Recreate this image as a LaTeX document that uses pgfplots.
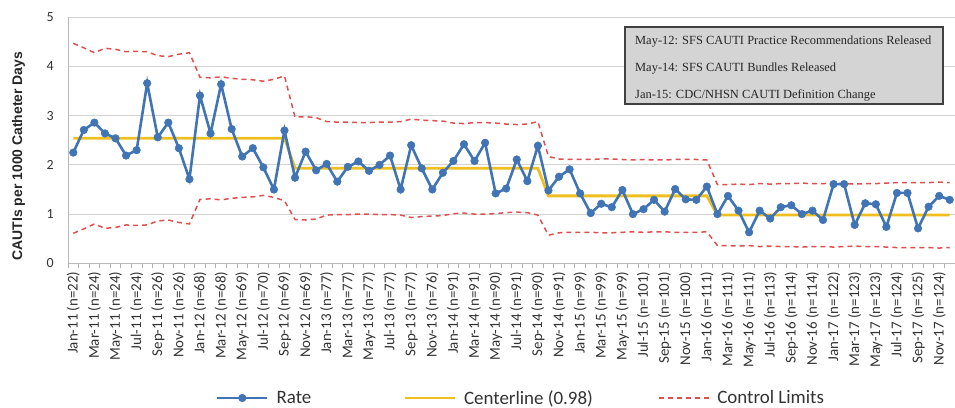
\documentclass[border=0pt]{standalone}
\usepackage{fontspec}
\setmainfont{Carlito}
\newfontfamily\arialf{Liberation Sans}
\newfontfamily\timesf{Liberation Serif}
\usepackage{pgfplots}
\usepackage{pgfplotstable}
\pgfplotsset{compat=1.18}
\definecolor{rateblue}{RGB}{64,116,181}
\definecolor{clgold}{RGB}{240,190,30}
\definecolor{limred}{RGB}{222,80,80}
\definecolor{gridgray}{RGB}{212,212,212}
\definecolor{boxgray}{RGB}{212,212,212}
\definecolor{txtgray}{RGB}{50,50,50}

\pgfplotstableread{
x rate cl ucl lcl
0 2.25 2.54 4.47 0.61
1 2.71 2.54 4.38 0.70
2 2.86 2.54 4.28 0.80
3 2.64 2.54 4.37 0.71
4 2.54 2.54 4.35 0.73
5 2.19 2.54 4.30 0.78
6 2.30 2.54 4.31 0.77
7 3.66 2.54 4.30 0.78
8 2.56 2.54 4.22 0.86
9 2.86 2.54 4.20 0.88
10 2.34 2.54 4.25 0.83
11 1.71 2.54 4.28 0.80
12 3.41 2.54 3.78 1.30
13 2.64 2.54 3.77 1.31
14 3.64 2.54 3.79 1.29
15 2.73 2.54 3.76 1.32
16 2.17 2.54 3.74 1.34
17 2.34 2.54 3.73 1.35
18 1.95 2.54 3.70 1.38
19 1.50 2.54 3.74 1.34
20 2.70 2.54 3.81 1.27
21 1.74 1.93 2.97 0.89
22 2.27 1.93 2.98 0.88
23 1.89 1.93 2.96 0.90
24 2.02 1.93 2.88 0.98
25 1.66 1.93 2.87 0.99
26 1.96 1.93 2.87 0.99
27 2.07 1.93 2.86 1.00
28 1.88 1.93 2.86 1.00
29 2.00 1.93 2.87 0.99
30 2.19 1.93 2.87 0.99
31 1.50 1.93 2.88 0.98
32 2.40 1.93 2.93 0.93
33 1.93 1.93 2.91 0.95
34 1.50 1.93 2.90 0.96
35 1.84 1.93 2.89 0.97
36 2.08 1.93 2.85 1.01
37 2.42 1.93 2.84 1.02
38 2.08 1.93 2.86 1.00
39 2.45 1.93 2.86 1.00
40 1.42 1.93 2.85 1.01
41 1.52 1.93 2.83 1.03
42 2.11 1.93 2.82 1.04
43 1.67 1.93 2.83 1.03
44 2.39 1.93 2.88 0.98
45 1.48 1.37 2.17 0.57
46 1.76 1.37 2.12 0.62
47 1.91 1.37 2.11 0.63
48 1.42 1.37 2.11 0.63
49 1.02 1.37 2.11 0.63
50 1.21 1.37 2.12 0.62
51 1.14 1.37 2.12 0.62
52 1.49 1.37 2.11 0.63
53 1.00 1.37 2.10 0.64
54 1.10 1.37 2.11 0.63
55 1.29 1.37 2.10 0.64
56 1.05 1.37 2.10 0.64
57 1.51 1.37 2.11 0.63
58 1.30 1.37 2.11 0.63
59 1.29 1.37 2.11 0.63
60 1.56 1.37 2.10 0.64
61 1.00 0.98 1.60 0.36
62 1.37 0.98 1.60 0.36
63 1.07 0.98 1.61 0.35
64 0.63 0.98 1.60 0.36
65 1.07 0.98 1.62 0.34
66 0.91 0.98 1.61 0.35
67 1.14 0.98 1.62 0.34
68 1.18 0.98 1.62 0.34
69 1.00 0.98 1.63 0.33
70 1.07 0.98 1.62 0.34
71 0.88 0.98 1.62 0.34
72 1.61 0.98 1.63 0.33
73 1.61 0.98 1.62 0.34
74 0.78 0.98 1.61 0.35
75 1.22 0.98 1.62 0.34
76 1.20 0.98 1.62 0.34
77 0.74 0.98 1.63 0.33
78 1.43 0.98 1.64 0.32
79 1.43 0.98 1.64 0.32
80 0.71 0.98 1.64 0.32
81 1.15 0.98 1.64 0.32
82 1.37 0.98 1.65 0.31
83 1.29 0.98 1.64 0.32
}\chartdata

\begin{document}
\begin{tikzpicture}
\path[use as bounding box] (-68bp,-144.7bp) rectangle (887bp,263.3bp);
\begin{axis}[
  at={(0,0)}, anchor=south west,
  width=887bp, height=246bp, scale only axis,
  xmin=-0.5, xmax=83.5, ymin=0, ymax=5,
  ytick={0,1,2,3,4,5},
  ymajorgrids, grid style={gridgray, line width=1bp},
  axis x line*=bottom, axis y line*=left,
  axis line style={gray!55, line width=1bp},
  xtick={0,2,...,82},
  xticklabels={{Jan-11 (n=22)},{Mar-11 (n=24)},{May-11 (n=24)},{Jul-11 (n=24)},{Sep-11 (n=26)},{Nov-11 (n=26)},
    {Jan-12 (n=68)},{Mar-12 (n=68)},{May-12 (n=69)},{Jul-12 (n=70)},{Sep-12 (n=69)},{Nov-12 (n=69)},
    {Jan-13 (n=77)},{Mar-13 (n=77)},{May-13 (n=77)},{Jul-13 (n=77)},{Sep-13 (n=77)},{Nov-13 (n=76)},
    {Jan-14 (n=91)},{Mar-14 (n=91)},{May-14 (n=90)},{Jul-14 (n=91)},{Sep-14 (n=90)},{Nov-14 (n=91)},
    {Jan-15 (n=99)},{Mar-15 (n=99)},{May-15 (n=99)},{Jul-15 (n=101)},{Sep-15 (n=101)},{Nov-15 (n=100)},
    {Jan-16 (n=111)},{Mar-16 (n=111)},{May-16 (n=111)},{Jul-16 (n=113)},{Sep-16 (n=114)},{Nov-16 (n=114)},
    {Jan-17 (n=122)},{Mar-17 (n=123)},{May-17 (n=123)},{Jul-17 (n=124)},{Sep-17 (n=125)},{Nov-17 (n=124)}},
  minor xtick={-0.5,0.5,...,83.5},
  tick align=outside,
  major tick length=0pt,
  minor tick length=5bp,
  minor tick style={gray!60, line width=0.8bp},
  ytick style={draw=none},
  xticklabel style={rotate=90, anchor=east, font=\fontsize{15}{15}\selectfont, text=txtgray, inner sep=0pt},
  xticklabel shift=8bp,
  yticklabel style={font=\fontsize{14}{14}\selectfont, text=txtgray, inner sep=0pt},
  yticklabel shift=14bp,
  /pgf/number format/assume math mode=true,
  ylabel={CAUTIs per 1000 Catheter Days},
  ylabel style={font=\arialf\bfseries\fontsize{14}{14}\selectfont, text=black!85, at={(axis description cs:-0.0558,0.436)}, anchor=center},
  legend columns=3,
  reverse legend,
  legend image code/.code={\draw[mark repeat=2,mark phase=2,#1] plot coordinates {(0bp,0bp) (25bp,0bp) (50bp,0bp)};},
  legend style={at={(axis description cs:0.5107,-0.5476)}, anchor=center, draw=none, fill=none,
    font=\fontsize{19}{19}\selectfont, text=txtgray,
    /tikz/column 1/.style={column sep=6bp},
    /tikz/column 2/.style={column sep=90bp},
    /tikz/column 3/.style={column sep=6bp},
    /tikz/column 4/.style={column sep=63bp},
    /tikz/column 5/.style={column sep=6bp}},
  legend cell align=left,
]
\addplot[limred, line width=1.5bp, dash pattern=on 5bp off 4bp] table[x=x,y=ucl]{\chartdata};
\addlegendentry{Control Limits}
\addplot[limred, line width=1.5bp, dash pattern=on 5bp off 4bp, forget plot] table[x=x,y=lcl]{\chartdata};
\addplot[clgold, line width=2.8bp] table[x=x,y=cl]{\chartdata};
\addlegendentry{Centerline (0.98)}
\addplot[rateblue, line width=2.6bp, mark=*, mark size=3.8bp, mark options={fill=rateblue, draw=rateblue, line width=0.5bp}] table[x=x,y=rate]{\chartdata};
\addlegendentry{Rate}
\draw[draw=black!75, line width=1.5bp, fill=boxgray] (rel axis cs:0.628,0.6476) rectangle (rel axis cs:0.9865,0.9606);
\node[anchor=west, inner sep=0pt, font=\timesf\fontsize{12.5}{12.5}\selectfont, text=black!85] at (rel axis cs:0.6392,0.9008) {May-12: SFS CAUTI Practice Recommendations Released};
\node[anchor=west, inner sep=0pt, font=\timesf\fontsize{12.5}{12.5}\selectfont, text=black!85] at (rel axis cs:0.6392,0.7927) {May-14: SFS CAUTI Bundles Released};
\node[anchor=west, inner sep=0pt, font=\timesf\fontsize{12.5}{12.5}\selectfont, text=black!85] at (rel axis cs:0.6392,0.6813) {Jan-15: CDC/NHSN CAUTI Definition Change};
\end{axis}
\end{tikzpicture}
\end{document}
